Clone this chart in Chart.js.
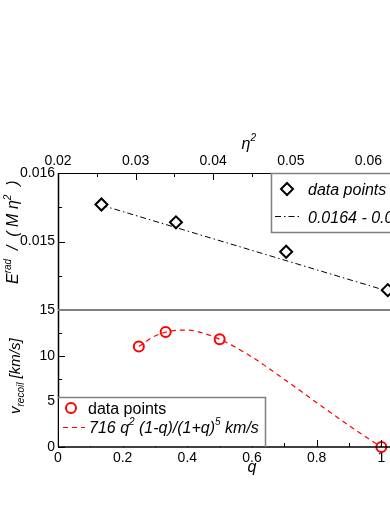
<!DOCTYPE html>
<html><head><meta charset="utf-8">
<script src="https://cdn.jsdelivr.net/npm/chart.js@4.4.1/dist/chart.umd.min.js"></script>
<style>
html,body{margin:0;padding:0;background:#fff;overflow:hidden;width:390px;height:505px}
#wrap{position:relative;width:390px;height:505px;overflow:hidden;background:#fff}
canvas{position:absolute;left:0;top:0}
</style></head>
<body><div id="wrap"><canvas id="c" width="470" height="505"></canvas></div>
<script>
// ---- data ----
const etaSquared = [0.0256, 0.0352, 0.0494, 0.0625];
const eRadScaled = [0.01554, 0.01528, 0.01485, 0.01429];
const fitEtaSquared = [0.0256, 0.0703];
const fitERad = [0.01553, 0.01401];
const massRatioQ = [0.25, 0.333, 0.5, 1.0];
const recoilKms = [11.0, 12.6, 11.8, 0.0];
const curveQ = [0.25, 0.30, 0.35, 0.40, 0.45, 0.50, 0.55, 0.60, 0.65, 0.70, 0.75, 0.80, 0.85, 0.90, 0.95, 1.00];
const curveKms = [11.0, 12.15, 12.7, 12.8, 12.45, 11.8, 10.9, 9.85, 8.65, 7.4, 6.15, 4.85, 3.6, 2.35, 1.15, 0.0];
const etaTickLabels = ['0.02', '0.03', '0.04', '0.05', '0.06', '0.07'];
const qTickLabels = ['0', '0.2', '0.4', '0.6', '0.8', '1', '1.2'];
const eTickLabels = ['0.015', '0.016'];
const vTickLabels = ['0', '5', '10', '15'];
const legendTop = ['data points', '0.0164 - 0.034 \u03B7\u00B2'];
const legendBottom = ['data points'];

const FONT = "'Liberation Sans', Arial, Helvetica, sans-serif";

function labelFrom(list) {
  return function (v) {
    const m = list.find(l => Math.abs(parseFloat(l) - v) < 1e-9);
    return m === undefined ? '' : m;
  };
}
function axis(extra) {
  return Object.assign({
    type: 'linear',
    grid: { display: false, drawTicks: false },
    border: { display: false }
  }, extra);
}
function tickOpts(step, list, pad) {
  return { stepSize: step, autoSkip: false, maxRotation: 0, minRotation: 0, padding: pad,
           color: '#000', font: { family: FONT, size: 14 }, callback: labelFrom(list) };
}

function pts(xs, ys) { return xs.map((x, i) => ({ x: x, y: ys[i] })); }

function drawRich(ctx, parts, x, y) {
  let cx = x;
  parts.forEach(p => {
    ctx.font = 'italic ' + p[1] + 'px ' + FONT;
    ctx.fillText(p[0], cx, y + p[2]);
    cx += ctx.measureText(p[0]).width;
  });
  return cx;
}

const decor = {
  id: 'decor',
  afterDatasetsDraw(chart) {
    const ctx = chart.ctx;
    const ca = chart.chartArea;
    const sx = chart.scales;
    const split = sx.yTop.bottom;
    ctx.save();
    ctx.strokeStyle = '#000';
    ctx.lineWidth = 1;
    sx.xTop.ticks.forEach(t => {
      const p = Math.round(sx.xTop.getPixelForValue(t.value)) + 0.5;
      const len = t.label !== '' ? 7 : 4;
      ctx.beginPath(); ctx.moveTo(p, ca.top); ctx.lineTo(p, ca.top + len); ctx.stroke();
    });
    sx.xBot.ticks.forEach(t => {
      const p = Math.round(sx.xBot.getPixelForValue(t.value)) + 0.5;
      const len = t.label !== '' ? 7 : 4;
      ctx.beginPath(); ctx.moveTo(p, ca.bottom); ctx.lineTo(p, ca.bottom - len); ctx.stroke();
    });
    [sx.yTop, sx.yBot].forEach(s => {
      s.ticks.forEach(t => {
        const p = Math.round(s.getPixelForValue(t.value)) + 0.5;
        const len = t.label !== '' ? 7 : 4;
        ctx.beginPath(); ctx.moveTo(ca.left, p); ctx.lineTo(ca.left + len, p); ctx.stroke();
      });
    });
    ctx.strokeStyle = '#000';
    ctx.lineWidth = 1;
    ctx.beginPath(); ctx.moveTo(ca.left, ca.top + 0.5); ctx.lineTo(ca.right, ca.top + 0.5); ctx.stroke();
    ctx.lineWidth = 1.5;
    ctx.beginPath(); ctx.moveTo(ca.left, ca.bottom); ctx.lineTo(ca.right, ca.bottom); ctx.stroke();
    ctx.beginPath(); ctx.moveTo(ca.left + 0.5, ca.top); ctx.lineTo(ca.left + 0.5, ca.bottom); ctx.stroke();
    ctx.strokeStyle = '#808080';
    ctx.lineWidth = 2;
    ctx.beginPath(); ctx.moveTo(ca.left, split); ctx.lineTo(ca.right, split); ctx.stroke();

    // ---- top legend ----
    ctx.fillStyle = '#fff';
    ctx.fillRect(271, ca.top, 200, 59);
    ctx.strokeStyle = '#808080';
    ctx.lineWidth = 1.5;
    ctx.strokeRect(271.5, ca.top + 0.5, 200, 59);
    ctx.strokeStyle = '#000';
    ctx.lineWidth = 2;
    ctx.beginPath();
    ctx.moveTo(287, 183); ctx.lineTo(293, 189); ctx.lineTo(287, 195); ctx.lineTo(281, 189); ctx.closePath();
    ctx.stroke();
    ctx.lineWidth = 1;
    ctx.setLineDash([6, 3, 1.5, 3]);
    ctx.beginPath(); ctx.moveTo(275, 216.5); ctx.lineTo(301, 216.5); ctx.stroke();
    ctx.setLineDash([]);
    ctx.fillStyle = '#000';
    ctx.textBaseline = 'alphabetic';
    ctx.textAlign = 'left';
    ctx.font = 'italic 16px ' + FONT;
    ctx.fillText(legendTop[0], 308, 195);
    ctx.fillText(legendTop[1], 308, 223);

    // ---- bottom legend ----
    ctx.fillStyle = '#fff';
    ctx.fillRect(ca.left + 1, 397, 265 - ca.left - 1, ca.bottom - 397 - 1);
    ctx.strokeStyle = '#808080';
    ctx.lineWidth = 1.5;
    ctx.beginPath();
    ctx.moveTo(ca.left, 397.5); ctx.lineTo(265.5, 397.5); ctx.lineTo(265.5, ca.bottom); ctx.stroke();
    ctx.strokeStyle = '#ff0000';
    ctx.lineWidth = 2;
    ctx.beginPath(); ctx.arc(71, 408, 5, 0, Math.PI * 2); ctx.stroke();
    ctx.lineWidth = 1.2;
    ctx.setLineDash([5, 4]);
    ctx.beginPath(); ctx.moveTo(63, 427.5); ctx.lineTo(85, 427.5); ctx.stroke();
    ctx.setLineDash([]);
    ctx.fillStyle = '#000';
    ctx.font = '16px ' + FONT;
    ctx.fillText(legendBottom[0], 88, 414);
    drawRich(ctx, [['716 q', 16, 0], ['2', 10, -8], [' (1-q)/(1+q)', 16, 0], ['5', 10, -8], [' km/s', 16, 0]], 89, 433);

    // ---- axis titles ----
    ctx.textAlign = 'left';
    ctx.font = 'italic 16px ' + FONT; const wEta = ctx.measureText('\u03B7').width;
    drawRich(ctx, [['\u03B7', 16, 0], ['2', 10, -8]], 246 - wEta / 2, 149);
    ctx.font = 'italic 16px ' + FONT;
    ctx.textAlign = 'center';
    ctx.fillText('q', 252, 472);
    ctx.textAlign = 'left';

    ctx.save();
    ctx.translate(18, 284);
    ctx.rotate(-Math.PI / 2);
    drawRich(ctx, [['E', 16, 0], ['rad', 10, -7], ['  /  ( M \u03B7', 16, 0], ['2', 10, -7], ['  )', 16, 0]], 0, 0);
    ctx.restore();

    ctx.save();
    ctx.translate(20, 414);
    ctx.rotate(-Math.PI / 2);
    drawRich(ctx, [['v', 15, 0], ['recoil', 10, 4], [' [km/s]', 15, 0]], 0, 0);
    ctx.restore();

    ctx.restore();
  }
};

new Chart(document.getElementById('c'), {
  type: 'line',
  data: {
    datasets: [
      { data: pts(etaSquared, eRadScaled), xAxisID: 'xTop', yAxisID: 'yTop', showLine: false,
        pointStyle: 'rectRot', pointRadius: 6, pointBorderWidth: 2, pointBorderColor: '#000',
        pointBackgroundColor: '#fff', clip: false },
      { data: pts(massRatioQ, recoilKms), xAxisID: 'xBot', yAxisID: 'yBot', showLine: false,
        pointStyle: 'circle', pointRadius: 5, pointBorderWidth: 2, pointBorderColor: '#ff0000',
        pointBackgroundColor: 'rgba(255,255,255,0)', clip: false },
      { data: pts(fitEtaSquared, fitERad), xAxisID: 'xTop', yAxisID: 'yTop', borderColor: '#000',
        borderWidth: 1, borderDash: [6, 3, 1.5, 3], pointRadius: 0, fill: false, clip: false },
      { data: pts(curveQ, curveKms), xAxisID: 'xBot', yAxisID: 'yBot', borderColor: '#ff0000',
        borderWidth: 1.2, borderDash: [5, 4], pointRadius: 0, fill: false,
        cubicInterpolationMode: 'monotone', clip: false }
    ]
  },
  options: {
    responsive: false,
    animation: false,
    devicePixelRatio: 1,
    layout: { padding: { left: 0, right: 24, top: 0, bottom: 0 } },
    plugins: { legend: { display: false }, tooltip: { enabled: false }, title: { display: false } },
    scales: {
      xTop: axis({ position: 'top', min: 0.02, max: 0.07, ticks: tickOpts(0.005, etaTickLabels, 3),
                   afterFit(s) { s.height = 173; } }),
      xBot: axis({ position: 'bottom', min: 0, max: 1.2, ticks: tickOpts(0.1, qTickLabels, 3),
                   afterFit(s) { s.height = 505 - 447; } }),
      yTop: axis({ position: 'left', stack: 'panels', stackWeight: 1, weight: 2, min: 0.014, max: 0.016,
                   ticks: tickOpts(0.0005, eTickLabels, 3), afterFit(s) { s.width = 58; } }),
      yBot: axis({ position: 'left', stack: 'panels', stackWeight: 1, weight: 1, min: 0, max: 15,
                   ticks: tickOpts(2.5, vTickLabels, 3), afterFit(s) { s.width = 58; } })
    }
  },
  plugins: [decor]
});
</script>
</body></html>
